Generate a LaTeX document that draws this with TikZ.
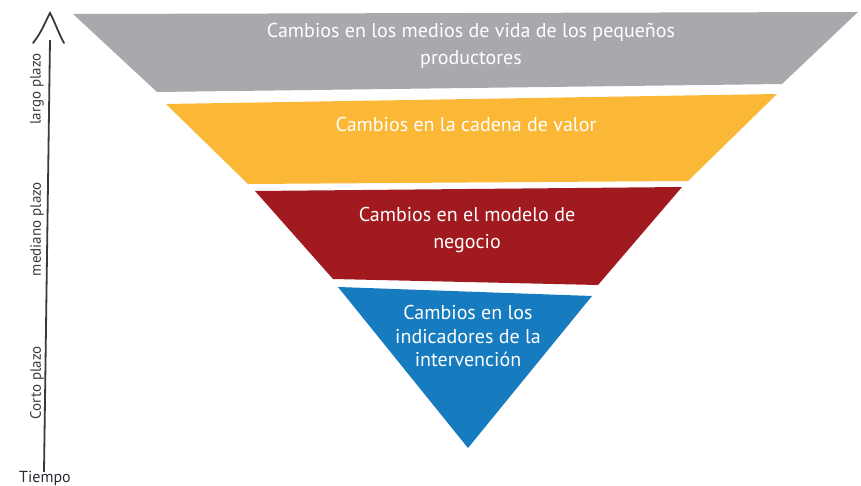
\documentclass[tikz,border=0pt]{standalone}
\usepackage{fontspec}
\setmainfont{PT Sans}
\usepackage{xcolor}
\usetikzlibrary{positioning}
\definecolor{bandgris}{HTML}{A7A9AC}
\definecolor{bandamar}{HTML}{FBB736}
\definecolor{bandrojo}{HTML}{A11A20}
\definecolor{bandazul}{HTML}{167BBF}
\definecolor{ejetexto}{HTML}{3A3A3A}
\definecolor{tiempotexto}{HTML}{2C2B3C}
\begin{document}
\begin{tikzpicture}[
  x=1pt, y=-1pt,
  every node/.style={font=\fontsize{20}{26.5}\selectfont, text=white, align=center},
  ejelabel/.style={font=\fontsize{15}{17}\selectfont, text=ejetexto, rotate=90},
  eje/.style={draw=ejetexto, line width=1.8pt}
]
\useasboundingbox (0,0) rectangle (861,486);
% niveles del embudo
\fill[bandgris] (73,14) -- (858,12) -- (782,84) -- (157,92) -- cycle;
\fill[bandamar] (166,104) -- (777,94) -- (688,181) -- (248,184) -- cycle;
\fill[bandrojo] (255,191) -- (682,187) -- (598,285) -- (333,279) -- cycle;
\fill[bandazul] (338,287) -- (592,296) -- (468,448) -- cycle;
\node (medios) at (471,46) {Cambios en los medios de vida de los pequeños\\productores};
\node (cadena) at (466,125) {Cambios en la cadena de valor};
\node (modelo) at (467,230) {Cambios en el modelo de\\negocio};
\node[font=\fontsize{20}{23.5}\selectfont] (indic) at (468,336) {Cambios en los\\indicadores de la\\intervención};
% eje del tiempo
\coordinate (base) at (44,472);
\coordinate (punta) at (50,40);
\coordinate (ala1) at (33,43);
\coordinate (vertice) at (50,13);
\coordinate (ala2) at (64,43);
\draw[eje] (base) -- (punta);
\draw[eje, line cap=round] (ala1) .. controls (42,32) and (46,20) .. (vertice)
  .. controls (54,20) and (58,32) .. (ala2);
\node[ejelabel] (largo) at (37,89) {largo plazo};
\node[ejelabel] (mediano) at (37,229) {mediano plazo};
\node[ejelabel] (corto) at (37,383) {Corto plazo};
\node[font=\fontsize{16}{18}\selectfont, text=tiempotexto] (tiempo) at (45,478) {Tiempo};
\end{tikzpicture}
\end{document}
